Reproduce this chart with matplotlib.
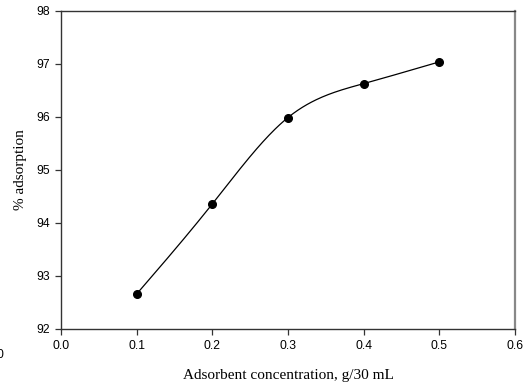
import numpy as np
import matplotlib.pyplot as plt

conc = [0.1, 0.2, 0.3, 0.4, 0.5]
adsorption = [92.66, 94.36, 95.99, 96.63, 97.04]
xticks = [0.0, 0.1, 0.2, 0.3, 0.4, 0.5, 0.6]
yticks = [92, 93, 94, 95, 96, 97, 98]


def natural_spline(x, y, n=200):
    x = np.asarray(x, float)
    y = np.asarray(y, float)
    k = len(x)
    h = np.diff(x)
    A = np.zeros((k, k))
    b = np.zeros(k)
    A[0, 0] = A[-1, -1] = 1
    for i in range(1, k - 1):
        A[i, i - 1] = h[i - 1]
        A[i, i] = 2 * (h[i - 1] + h[i])
        A[i, i + 1] = h[i]
        b[i] = 6 * ((y[i + 1] - y[i]) / h[i] - (y[i] - y[i - 1]) / h[i - 1])
    m = np.linalg.solve(A, b)
    xs = np.linspace(x[0], x[-1], n)
    idx = np.clip(np.searchsorted(x, xs) - 1, 0, k - 2)
    t0 = x[idx]
    t1 = x[idx + 1]
    hh = t1 - t0
    ys = (m[idx] * (t1 - xs) ** 3 / (6 * hh) + m[idx + 1] * (xs - t0) ** 3 / (6 * hh)
          + (y[idx] / hh - m[idx] * hh / 6) * (t1 - xs)
          + (y[idx + 1] / hh - m[idx + 1] * hh / 6) * (xs - t0))
    return xs, ys


fig = plt.figure(figsize=(5.3, 3.91), dpi=100)
ax = fig.add_axes([0.1151, 0.1586, 0.8566, 0.8133])

xs, ys = natural_spline(conc, adsorption)
ax.plot(xs, ys, color='black', lw=0.9)
ax.plot(conc, adsorption, 'o', color='black', markersize=5.5)

ax.set_xlim(0, 0.6)
ax.set_ylim(92, 98)
ax.set_xticks(xticks)
ax.set_yticks(yticks)
ax.set_xticklabels([f'{v:.1f}' for v in xticks], family='Liberation Sans', fontsize=8.7)
ax.set_yticklabels([str(v) for v in yticks], family='Liberation Sans', fontsize=8.7)
ax.tick_params(direction='out', length=4, width=0.9, color='#333333', pad=4)

for s in ['left', 'bottom', 'top']:
    ax.spines[s].set_color('#333333')
    ax.spines[s].set_linewidth(1.0)
ax.spines['right'].set_color('#888888')
ax.spines['right'].set_linewidth(1.6)

ax.set_xlabel('Adsorbent concentration, g/30 mL', family='Liberation Serif', fontsize=11, labelpad=12)
ax.set_ylabel('% adsorption', family='Liberation Serif', fontsize=11, labelpad=7)

fig.text(-0.006, 0.085, '0', family='Liberation Sans', fontsize=8.7)

fig.savefig('out.png', dpi=100)
